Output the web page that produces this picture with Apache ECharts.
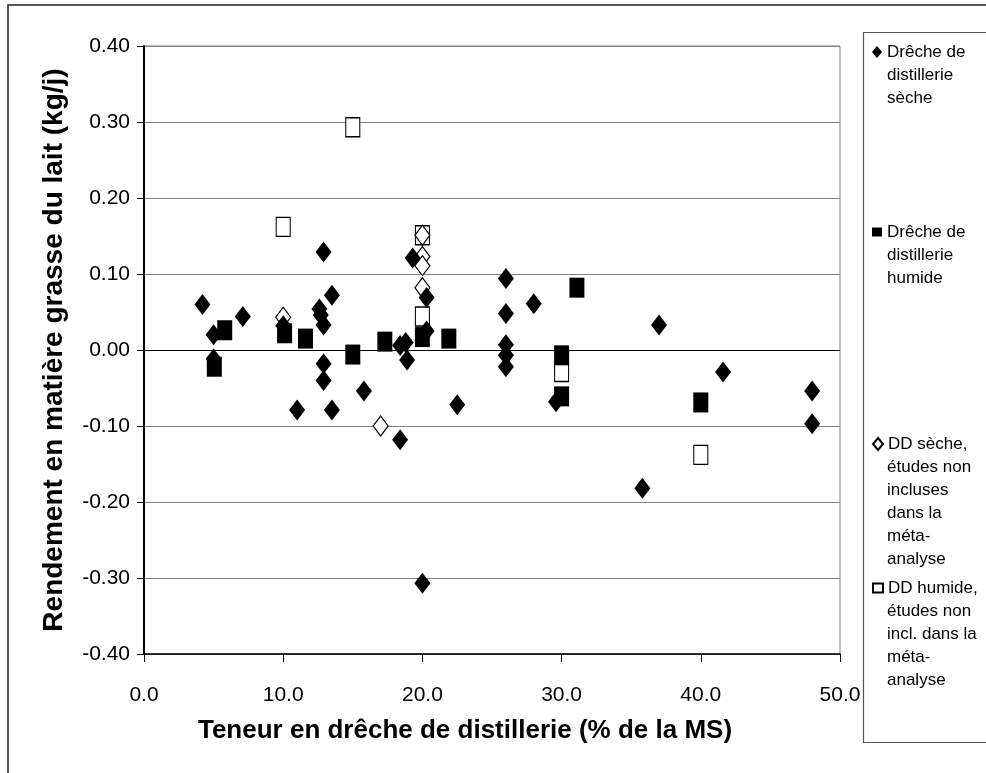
<!DOCTYPE html>
<html>
<head>
<meta charset="utf-8">
<script src="https://cdn.jsdelivr.net/npm/echarts@6/dist/echarts.min.js"></script>
<style>
  html, body { margin: 0; padding: 0; background: #fff; }
  #chart { width: 986px; height: 773px; }
</style>
</head>
<body>
<div id="chart"></div>
<script>
// Drêche de distillerie sèche (losanges noirs)
const secheX = [4.2, 5.0, 5.0, 7.1, 10.0, 11.0, 12.6, 12.7, 12.9, 12.9, 12.9, 12.9, 13.5, 13.5, 15.8, 18.4, 18.4, 18.8, 18.9, 19.3, 20.0, 20.3, 20.3, 22.5, 26.0, 26.0, 26.0, 26.0, 26.0, 28.0, 29.6, 35.8, 37.0, 41.6, 48.0, 48.0]
const secheY = [0.060, 0.020, -0.012, 0.044, 0.032, -0.079, 0.054, 0.046, 0.033, 0.129, -0.018, -0.040, 0.072, -0.079, -0.054, -0.118, 0.006, 0.010, -0.013, 0.121, -0.307, 0.069, 0.025, -0.072, 0.094, 0.048, 0.007, -0.007, -0.022, 0.061, -0.068, -0.182, 0.033, -0.029, -0.054, -0.097]
// Drêche de distillerie humide (carrés noirs)
const humideX = [5.05, 5.8, 10.1, 11.6, 15.0, 17.3, 20.0, 21.9, 30.0, 30.0, 31.1, 40.0]
const humideY = [-0.022, 0.026, 0.022, 0.015, -0.006, 0.011, 0.017, 0.015, -0.007, -0.061, 0.082, -0.069]
// DD sèche, études non incluses (losanges blancs)
const ddSecheX = [10.0, 17.0, 20.0, 20.0, 20.0, 20.0]
const ddSecheY = [0.043, -0.100, 0.151, 0.123, 0.111, 0.082]
// DD humide, études non incluses (carrés blancs)
const ddHumideX = [10.0, 15.0, 20.0, 20.0, 30.0, 40.0]
const ddHumideY = [0.162, 0.293, 0.151, 0.044, -0.029, -0.138]

const seriesNames = [
  'Drêche de distillerie sèche',
  'Drêche de distillerie humide',
  'DD sèche, études non incluses dans la méta-analyse',
  'DD humide, études non incl. dans la méta-analyse'
]
// texte de la légende, ligne par ligne
const legendLines = [
  ['Drêche de', 'distillerie', 'sèche'],
  ['Drêche de', 'distillerie', 'humide'],
  ['DD sèche,', 'études non', 'incluses', 'dans la', 'méta-', 'analyse'],
  ['DD humide,', 'études non', 'incl. dans la', 'méta-', 'analyse']
]
const legendFirstLine = [52, 232, 444, 588]

const zip = (xs, ys) => xs.map((x, i) => [x, ys[i]])

const chart = echarts.init(document.getElementById('chart'))

const font = "'Liberation Sans', Arial, sans-serif"
const lh = 23

const legendText = {
  fontFamily: font,
  fontSize: 17,
  color: '#000',
  lineHeight: lh
}

// chaque entrée : une légende pour le symbole + 1re ligne, une autre pour la suite du texte
const legends = []
seriesNames.forEach((name, i) => {
  const lines = legendLines[i]
  legends.push({
    data: [name],
    left: 872,
    top: legendFirstLine[i] - lh / 2,
    padding: 0,
    itemWidth: 10,
    itemHeight: i % 2 === 0 ? 12 : 9,
    selectedMode: false,
    formatter: () => lines[0],
    textStyle: legendText
  })
  legends.push({
    data: [{ name: name, icon: 'none' }],
    left: 872,
    top: legendFirstLine[i] + lh / 2,
    padding: 0,
    itemWidth: 10,
    itemHeight: 10,
    selectedMode: false,
    formatter: () => lines.slice(1).join('\n'),
    textStyle: legendText
  })
})

const option = {
  animation: false,
  graphic: [
    {
      type: 'rect',
      shape: { x: 8, y: 5, width: 1000, height: 800 },
      style: { fill: 'none', stroke: '#222', lineWidth: 1.5 },
      silent: true
    },
    {
      type: 'rect',
      shape: { x: 863.5, y: 32.5, width: 200, height: 710 },
      style: { fill: 'none', stroke: '#555', lineWidth: 1.2 },
      silent: true
    }
  ],
  legend: legends,
  grid: {
    left: 144,
    right: 146,
    top: 46,
    bottom: 119,
    show: true,
    borderColor: '#808080',
    borderWidth: 1
  },
  xAxis: {
    type: 'value',
    min: 0,
    max: 50,
    interval: 10,
    name: 'Teneur en drêche de distillerie (% de la MS)',
    nameLocation: 'middle',
    nameGap: 64,
    nameTextStyle: {
      fontFamily: font,
      fontWeight: 'bold',
      fontSize: 26,
      color: '#000',
      padding: [0, 54, 0, 0]
    },
    axisLine: { onZero: false, lineStyle: { color: '#000', width: 1.5 } },
    axisTick: { show: true, length: 8, lineStyle: { color: '#000' } },
    axisLabel: {
      margin: 31,
      fontFamily: font,
      fontSize: 21,
      color: '#000',
      formatter: v => v.toFixed(1)
    },
    splitLine: { show: false }
  },
  yAxis: {
    type: 'value',
    min: -0.4,
    max: 0.4,
    interval: 0.1,
    name: 'Rendement en matière grasse du lait (kg/j)',
    nameLocation: 'middle',
    nameGap: 76,
    nameTextStyle: {
      fontFamily: font,
      fontWeight: 'bold',
      fontSize: 28,
      color: '#000'
    },
    axisLine: { show: true, onZero: false, lineStyle: { color: '#000', width: 2 } },
    axisTick: { show: true, length: 7, lineStyle: { color: '#000' } },
    axisLabel: {
      margin: 14,
      fontFamily: font,
      fontSize: 21,
      color: '#000',
      formatter: v => v.toFixed(2)
    },
    splitLine: {
      show: true,
      lineStyle: {
        color: ['#808080', '#808080', '#808080', '#808080', '#000', '#808080', '#808080', '#808080', '#808080'],
        width: 1
      }
    }
  },
  // ordre de dessin : carrés blancs, losanges blancs, puis les séries noires par-dessus
  series: [
    {
      name: seriesNames[3],
      type: 'scatter',
      symbol: 'rect',
      symbolSize: [14, 19],
      itemStyle: { color: '#fff', borderColor: '#000', borderWidth: 1.2, opacity: 1 },
      emphasis: { disabled: true },
      data: zip(ddHumideX, ddHumideY)
    },
    {
      name: seriesNames[2],
      type: 'scatter',
      symbol: 'diamond',
      symbolSize: [15, 20],
      itemStyle: { color: '#fff', borderColor: '#000', borderWidth: 1.2, opacity: 1 },
      emphasis: { disabled: true },
      data: zip(ddSecheX, ddSecheY)
    },
    {
      name: seriesNames[0],
      type: 'scatter',
      symbol: 'diamond',
      symbolSize: [16, 21],
      itemStyle: { color: '#000', opacity: 1 },
      emphasis: { disabled: true },
      data: zip(secheX, secheY)
    },
    {
      name: seriesNames[1],
      type: 'scatter',
      symbol: 'rect',
      symbolSize: [15, 20],
      itemStyle: { color: '#000', opacity: 1 },
      emphasis: { disabled: true },
      data: zip(humideX, humideY)
    }
  ]
}

chart.setOption(option)
</script>
</body>
</html>
